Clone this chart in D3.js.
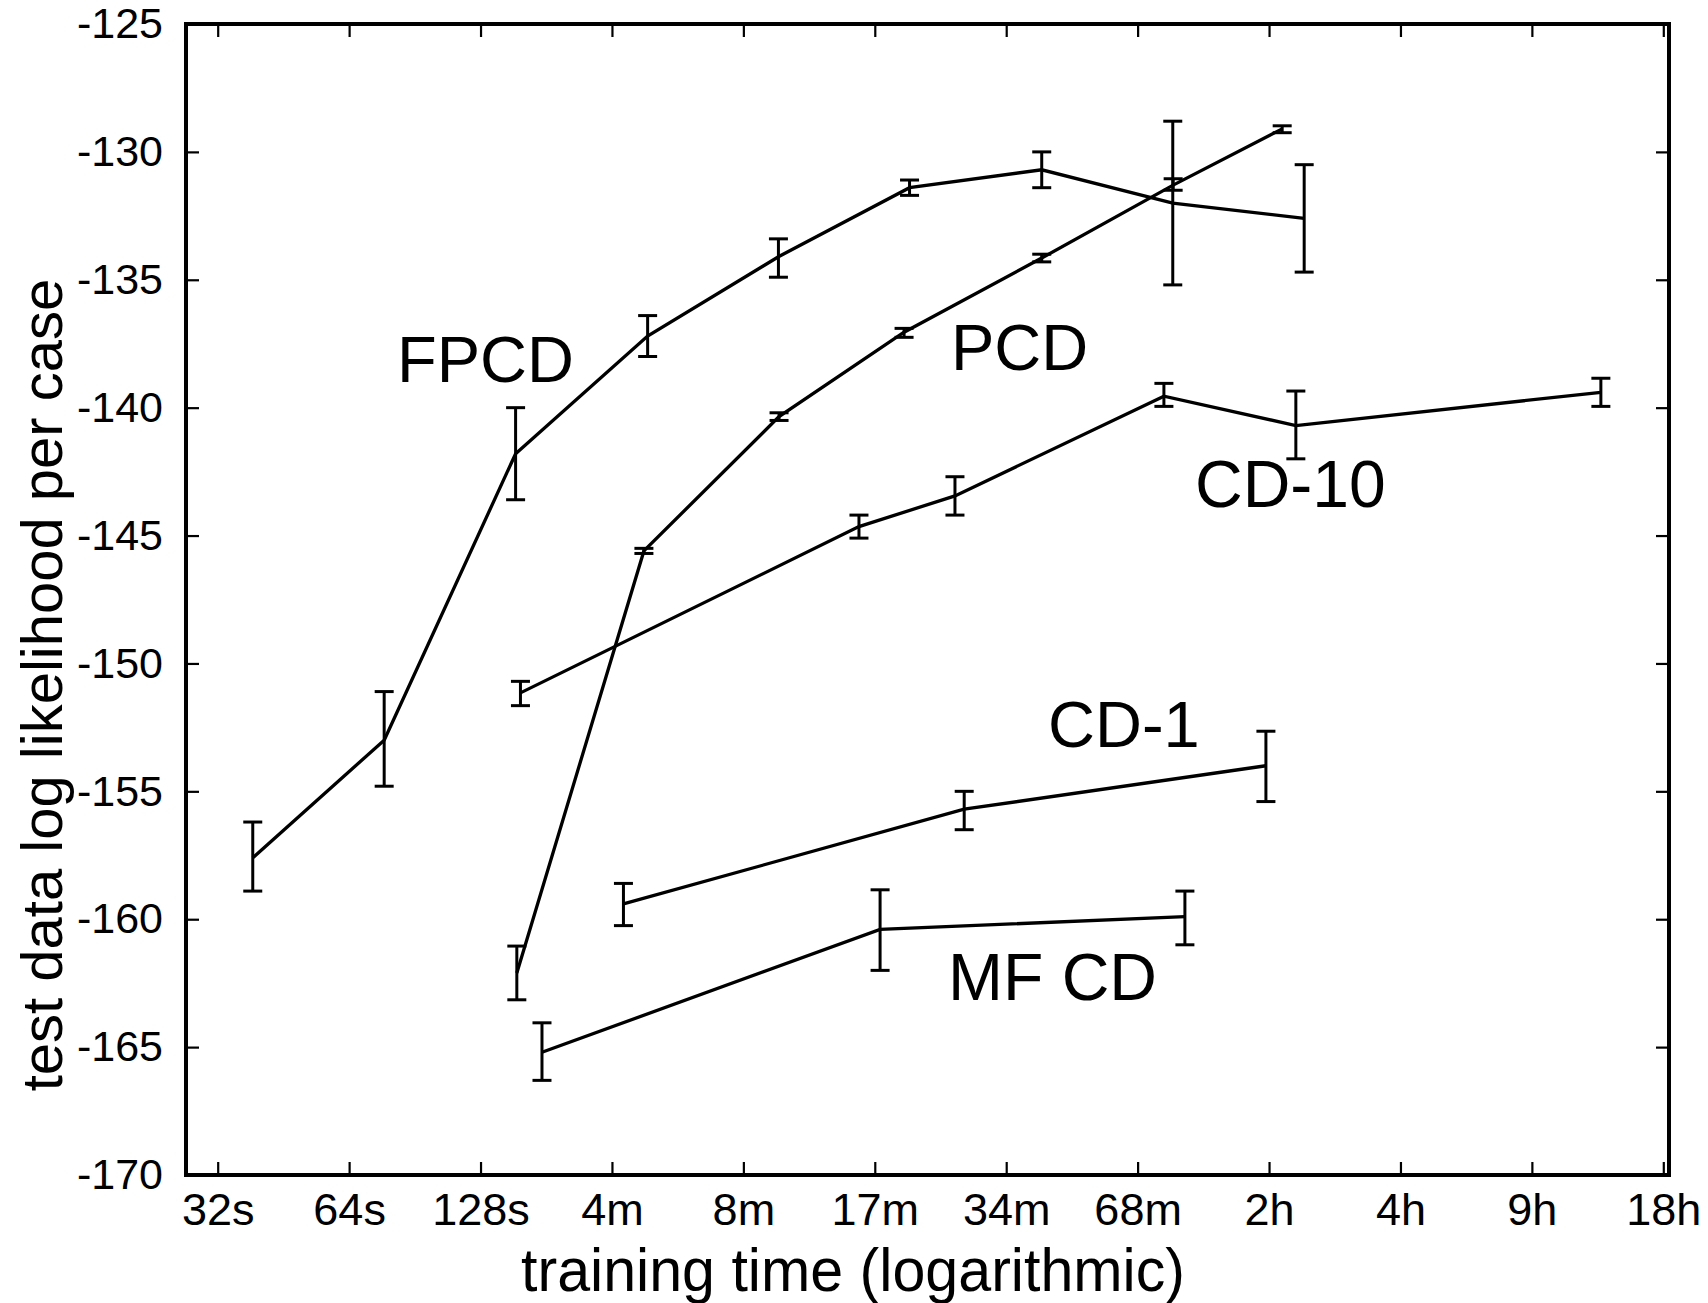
<!DOCTYPE html>
<html>
<head>
<meta charset="utf-8">
<script src="https://cdn.jsdelivr.net/npm/d3@7"></script>
<style>
  html, body { margin: 0; padding: 0; background: #fff; }
  svg { display: block; }
  text { font-family: "Liberation Sans", Arial, Helvetica, sans-serif; fill: #000; }
</style>
</head>
<body>
<svg id="chart" width="1708" height="1303"></svg>
<script>
// ---- data ----
const xTickValues = [32, 64, 128, 256, 512, 1024, 2048, 4096, 8192, 16384, 32768, 65536];
const xTickLabels = ["32s", "64s", "128s", "4m", "8m", "17m", "34m", "68m", "2h", "4h", "9h", "18h"];
const yTickValues = [-125, -130, -135, -140, -145, -150, -155, -160, -165, -170];
const yTickLabels = ["-125", "-130", "-135", "-140", "-145", "-150", "-155", "-160", "-165", "-170"];

const seriesNames = ["FPCD", "PCD", "CD-10", "CD-1", "MF CD"];

const fpcdTime = [38.5, 77, 154, 309, 616, 1230, 2470, 4930, 9860];
const fpcdMean = [-157.6, -153.0, -141.8, -137.2, -134.1, -131.4, -130.7, -132.0, -132.6];
const fpcdLo   = [-158.9, -154.8, -143.6, -138.0, -134.9, -131.7, -131.4, -135.2, -134.7];
const fpcdHi   = [-156.2, -151.1, -140.0, -136.4, -133.4, -131.1, -130.0, -128.8, -130.5];

const pcdTime = [155, 303, 618, 1195, 2470, 4940, 8780];
const pcdMean = [-162.1, -145.6, -140.35, -137.05, -134.15, -131.3, -129.1];
const pcdLo   = [-163.15, -145.7, -140.5, -137.25, -134.3, -131.5, -129.25];
const pcdHi   = [-161.05, -145.5, -140.2, -136.9, -134.0, -131.05, -128.98];

const cd10Time = [158, 942, 1563, 4705, 9436, 47150];
const cd10Mean = [-151.15, -144.65, -143.45, -139.55, -140.7, -139.4];
const cd10Lo   = [-151.65, -145.1, -144.2, -139.95, -142.0, -139.95];
const cd10Hi   = [-150.7, -144.2, -142.7, -139.05, -139.35, -138.85];

const cd1Time = [272, 1641, 8058];
const cd1Mean = [-159.4, -155.7, -154.0];
const cd1Lo   = [-160.25, -156.5, -155.4];
const cd1Hi   = [-158.6, -155.0, -152.65];

const mfTime = [177, 1053, 5256];
const mfMean = [-165.2, -160.4, -159.9];
const mfLo   = [-166.3, -162.0, -161.0];
const mfHi   = [-164.05, -158.85, -158.9];

// ---- layout ----
const L = 186, R = 1669, T = 24, B = 1175;
const svg = d3.select("#chart");

const x = d3.scaleLog().base(2).domain([Math.pow(2, 4.7588), Math.pow(2, 16.0434)]).range([L, R]);
const y = d3.scaleLinear().domain([-170, -125]).range([B, T]);

const build = (t, m, lo, hi) => t.map((d, i) => ({ t: d, m: m[i], lo: lo[i], hi: hi[i] }));
const series = [
  build(fpcdTime, fpcdMean, fpcdLo, fpcdHi),
  build(pcdTime, pcdMean, pcdLo, pcdHi),
  build(cd10Time, cd10Mean, cd10Lo, cd10Hi),
  build(cd1Time, cd1Mean, cd1Lo, cd1Hi),
  build(mfTime, mfMean, mfLo, mfHi)
];

const tickLen = 13;

// axes (ticks inward)
const xBottom = d3.axisBottom(x).tickValues(xTickValues).tickFormat((d, i) => xTickLabels[i])
  .tickSizeInner(-tickLen).tickSizeOuter(0).tickPadding(18);
const xTop = d3.axisTop(x).tickValues(xTickValues).tickFormat("").tickSizeInner(-tickLen).tickSizeOuter(0);
const yLeft = d3.axisLeft(y).tickValues(yTickValues).tickFormat((d, i) => yTickLabels[i])
  .tickSizeInner(-tickLen).tickSizeOuter(0).tickPadding(23);
const yRight = d3.axisRight(y).tickValues(yTickValues).tickFormat("").tickSizeInner(-tickLen).tickSizeOuter(0);

function styleAxis(g, fs) {
  g.select(".domain").remove();
  g.selectAll(".tick line").attr("stroke", "#000").attr("stroke-width", 2.2);
  g.selectAll(".tick text").attr("fill", "#000").attr("font-size", fs)
    .attr("font-family", '"Liberation Sans", Arial, sans-serif');
}

svg.append("g").attr("transform", `translate(0,${B})`).call(xBottom).call(g => styleAxis(g, 45));
svg.append("g").attr("transform", `translate(0,${T})`).call(xTop).call(g => styleAxis(g, 45));
svg.append("g").attr("transform", `translate(${L},0)`).call(yLeft).call(g => styleAxis(g, 43));
svg.append("g").attr("transform", `translate(${R},0)`).call(yRight).call(g => styleAxis(g, 43));

// frame
svg.append("rect").attr("x", L).attr("y", T).attr("width", R - L).attr("height", B - T)
  .attr("fill", "none").attr("stroke", "#000").attr("stroke-width", 4);

// lines
const line = d3.line().x(d => x(d.t)).y(d => y(d.m));
const capW = 9.5;
series.forEach(s => {
  svg.append("path").datum(s).attr("d", line)
    .attr("fill", "none").attr("stroke", "#000").attr("stroke-width", 3.3).attr("stroke-linejoin", "miter");
  const eb = svg.append("g").attr("stroke", "#000").attr("stroke-width", 3);
  eb.selectAll("line.v").data(s).join("line").attr("class", "v")
    .attr("x1", d => x(d.t)).attr("x2", d => x(d.t)).attr("y1", d => y(d.lo)).attr("y2", d => y(d.hi));
  eb.selectAll("line.top").data(s).join("line").attr("class", "top")
    .attr("x1", d => x(d.t) - capW).attr("x2", d => x(d.t) + capW).attr("y1", d => y(d.hi)).attr("y2", d => y(d.hi));
  eb.selectAll("line.bot").data(s).join("line").attr("class", "bot")
    .attr("x1", d => x(d.t) - capW).attr("x2", d => x(d.t) + capW).attr("y1", d => y(d.lo)).attr("y2", d => y(d.lo));
});

// series labels
const labelPos = [[397, 382], [951, 370], [1195, 507], [1048, 747], [948, 1000]];
const labelFs = [65, 65, 66, 65, 66];
svg.append("g").selectAll("text").data(seriesNames).join("text")
  .attr("x", (d, i) => labelPos[i][0]).attr("y", (d, i) => labelPos[i][1])
  .attr("font-size", (d, i) => labelFs[i]).text(d => d);

// axis titles
svg.append("text").attr("x", 853).attr("y", 1291).attr("text-anchor", "middle")
  .attr("font-size", 62).attr("textLength", 664).attr("lengthAdjust", "spacingAndGlyphs")
  .text("training time (logarithmic)");
svg.append("text").attr("transform", `translate(62,${685}) rotate(-90)`).attr("text-anchor", "middle")
  .attr("font-size", 58).text("test data log likelihood per case");
</script>
</body>
</html>
